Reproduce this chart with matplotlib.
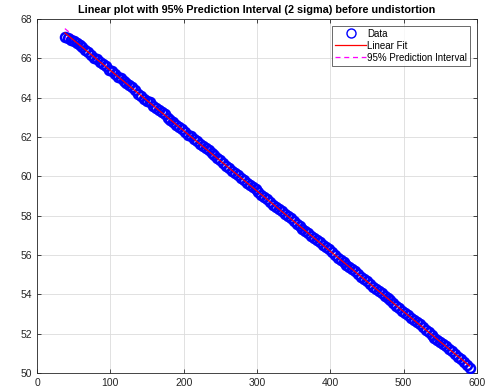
import numpy as np
import matplotlib
matplotlib.use("Agg")
import matplotlib.pyplot as plt

x_data = list(range(38, 591, 4))
y_data = [67.10, 67.03, 66.95, 66.87, 66.76, 66.66, 66.56, 66.42, 66.34, 66.19,
          66.04, 65.96, 65.81, 65.73, 65.59, 65.42, 65.34, 65.18, 65.04, 64.99,
          64.85, 64.75, 64.62, 64.53, 64.39, 64.21, 64.11, 63.95, 63.85, 63.76,
          63.60, 63.50, 63.38, 63.28, 63.15, 62.97, 62.86, 62.77, 62.62, 62.53,
          62.40, 62.24, 62.12, 62.03, 61.88, 61.78, 61.66, 61.55, 61.44, 61.33,
          61.19, 61.09, 60.95, 60.83, 60.70, 60.54, 60.43, 60.28, 60.16, 60.07,
          59.90, 59.81, 59.68, 59.58, 59.45, 59.34, 59.22, 59.07, 58.95, 58.85,
          58.70, 58.56, 58.44, 58.35, 58.22, 58.11, 57.99, 57.89, 57.75, 57.60,
          57.48, 57.34, 57.22, 57.12, 56.97, 56.87, 56.75, 56.65, 56.52, 56.39,
          56.28, 56.14, 56.02, 55.87, 55.75, 55.65, 55.50, 55.39, 55.27, 55.17,
          55.03, 54.89, 54.78, 54.68, 54.52, 54.39, 54.28, 54.18, 54.06, 53.92,
          53.81, 53.69, 53.55, 53.41, 53.28, 53.17, 53.04, 52.95, 52.82, 52.68,
          52.58, 52.47, 52.33, 52.19, 52.06, 51.94, 51.80, 51.69, 51.57, 51.46,
          51.35, 51.22, 51.10, 50.96, 50.82, 50.69, 50.55, 50.40, 50.25]
pi_halfwidth = 0.22
x_ticks = [0, 100, 200, 300, 400, 500, 600]
y_ticks = [50, 52, 54, 56, 58, 60, 62, 64, 66, 68]

x = np.array(x_data, dtype=float)
y = np.array(y_data, dtype=float)
p = np.polyfit(x, y, 1)
fit = np.polyval(p, x)
upper = fit + pi_halfwidth
lower = fit - pi_halfwidth

plt.rcParams['font.family'] = ['Liberation Sans', 'DejaVu Sans']
fig = plt.figure(figsize=(4.86, 3.91), dpi=100)
ax = fig.add_axes([37/486, 18/391, 440/486, 354/391])

ax.plot(x, y, 'o', color='blue', markerfacecolor='none', markersize=6.5, markeredgewidth=1.8,
        label='Data', zorder=3)
ax.plot(x, fit, '-', color='red', linewidth=0.9, label='Linear Fit', zorder=4)
ax.plot(x, upper, '--', color='magenta', linewidth=0.9, dashes=(4, 3),
        label='95% Prediction Interval', zorder=2)
ax.plot(x, lower, '--', color='magenta', linewidth=0.9, dashes=(4, 3), zorder=2)

ax.set_xlim(0, 600)
ax.set_ylim(50, 68)
ax.set_xticks(x_ticks)
ax.set_yticks(y_ticks)
ax.grid(True, color='#dcdcdc', linewidth=0.6)
ax.set_axisbelow(True)
ax.tick_params(direction='in', top=True, right=True, labelsize=7.5, colors='#262626',
               length=3, width=0.6)
for s in ax.spines.values():
    s.set_color('#262626')
    s.set_linewidth(0.6)
ax.set_title('Linear plot with 95% Prediction Interval (2 sigma) before undistortion',
             fontsize=7.8, fontweight='bold', pad=4)
handles, labels = ax.get_legend_handles_labels()
leg = ax.legend(handles, labels, loc='upper right', fontsize=7, frameon=True, fancybox=False,
                edgecolor='#262626', borderpad=0.3, handlelength=3.2, labelspacing=0.2,
                handletextpad=0.1, borderaxespad=0.7)
leg.get_frame().set_linewidth(0.6)
leg.set_zorder(10)
leg.legend_handles[0].set_markeredgewidth(1.0)
fig.savefig('out.png', dpi=100)
